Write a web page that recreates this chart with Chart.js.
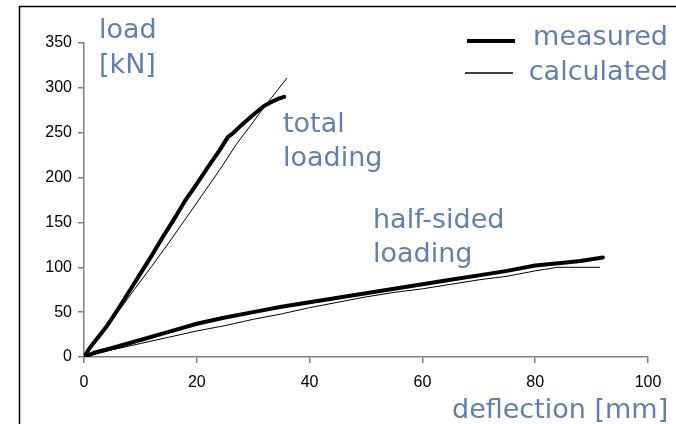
<!DOCTYPE html>
<html>
<head>
<meta charset="utf-8">
<script src="https://cdn.jsdelivr.net/npm/chart.js@4/dist/chart.umd.min.js"></script>
<style>
  html, body { margin: 0; padding: 0; background: #fff; }
  #wrap { width: 676px; height: 424px; position: relative; }
</style>
</head>
<body>
<div id="wrap"><canvas id="chart" width="676" height="424"></canvas></div>
<script>
// Load-deflection curves, values

// total loading, measured
const totalMeasX = [0, 1, 2.5, 4, 6, 8, 10, 12, 14, 16, 18, 20, 22, 24, 25.5, 26.5, 28, 30, 32, 33.5, 34.5, 35.5];
const totalMeasY = [0, 10, 22, 34, 53, 73, 93, 113, 134, 154, 175, 193, 212, 230, 245, 250, 259, 270, 280, 285, 288, 290];

// total loading, calculated
const totalCalcX = [0, 3, 6, 9, 12, 15, 18, 21, 24, 27, 30, 32, 34, 36];
const totalCalcY = [0, 24, 50, 76, 101, 127, 154, 181, 208, 237, 262, 279, 295, 311];

// half-sided loading, measured
const halfMeasX = [0, 2, 5, 10, 15, 20, 25, 30, 35, 40, 45, 50, 55, 60, 65, 70, 75, 80, 85, 88, 90, 92];
const halfMeasY = [0, 5, 10, 19, 28, 37, 44, 50, 56, 61, 66, 71, 76, 81, 86, 91, 96, 102, 105, 107, 109, 111];

// half-sided loading, calculated
const halfCalcX = [0, 5, 10, 15, 20, 25, 30, 35, 40, 45, 50, 55, 60, 65, 70, 75, 80, 84, 91.5];
const halfCalcY = [0, 8, 15, 22, 29, 35, 42, 48, 55, 61, 67, 72, 76, 81, 86, 90, 96, 100, 100];

const xTicks = [0, 20, 40, 60, 80, 100];
const yTicks = [0, 50, 100, 150, 200, 250, 300, 350];

const TEXT_BLUE = '#5f7fb6';
const LABEL_FONT = '27px "DejaVu Sans"';

function toPoints(xs, ys) {
    return xs.map((x, i) => ({ x: x, y: ys[i] }));
}

function measured(xs, ys) {
    return {
        label: 'measured',
        data: toPoints(xs, ys),
        borderColor: '#000',
        borderWidth: 4,
        pointRadius: 0,
        showLine: true,
        tension: 0,
        borderCapStyle: 'round'
    };
}

function calculated(xs, ys) {
    return {
        label: 'calculated',
        data: toPoints(xs, ys),
        borderColor: '#000',
        borderWidth: 1,
        pointRadius: 0,
        showLine: true,
        tension: 0
    };
}

// Frame, annotations and legend drawn on top of the chart
const decorations = {
    id: 'decorations',
    afterDraw(chart) {
        const ctx = chart.ctx;
        ctx.save();

        // outer frame (top and left edges only)
        ctx.strokeStyle = '#000';
        ctx.lineWidth = 1.5;
        ctx.beginPath();
        ctx.moveTo(676, 6.5);
        ctx.lineTo(19.5, 6.5);
        ctx.lineTo(19.5, 424);
        ctx.stroke();

        // annotation texts
        ctx.fillStyle = TEXT_BLUE;
        ctx.font = LABEL_FONT;
        ctx.textBaseline = 'alphabetic';
        ctx.textAlign = 'left';
        ctx.fillText('load', 99, 38);
        ctx.fillText('[kN]', 99, 73);
        ctx.fillText('total', 283, 132);
        ctx.fillText('loading', 283, 166);
        ctx.fillText('half-sided', 373, 228);
        ctx.fillText('loading', 373, 262);
        ctx.fillText('deflection [mm]', 452, 418);

        // legend
        ctx.textAlign = 'right';
        ctx.fillText('measured', 668, 45);
        ctx.fillText('calculated', 668, 80);

        ctx.strokeStyle = '#000';
        ctx.lineWidth = 4;
        ctx.beginPath();
        ctx.moveTo(467, 41);
        ctx.lineTo(515, 41);
        ctx.stroke();

        ctx.lineWidth = 1.5;
        ctx.beginPath();
        ctx.moveTo(465, 73);
        ctx.lineTo(513, 73);
        ctx.stroke();

        ctx.restore();
    }
};

new Chart(document.getElementById('chart').getContext('2d'), {
    type: 'scatter',
    data: {
        datasets: [
            measured(totalMeasX, totalMeasY),
            calculated(totalCalcX, totalCalcY),
            measured(halfMeasX, halfMeasY),
            calculated(halfCalcX, halfCalcY)
        ]
    },
    options: {
        responsive: false,
        animation: false,
        layout: {
            padding: { top: 43, right: 28, left: 0, bottom: 0 }
        },
        plugins: {
            legend: { display: false },
            tooltip: { enabled: false }
        },
        scales: {
            x: {
                type: 'linear',
                min: 0,
                max: 100,
                afterBuildTicks: (axis) => { axis.ticks = xTicks.map(v => ({ value: v })); },
                afterFit: (axis) => { axis.height = 67; },
                border: { color: '#808080', width: 1.5 },
                grid: { drawOnChartArea: false, color: '#808080', tickLength: 6, lineWidth: 1.5 },
                ticks: {
                    color: '#000',
                    font: { family: '"Liberation Sans", Arial', size: 16 },
                    padding: 10,
                    maxRotation: 0
                }
            },
            y: {
                type: 'linear',
                min: 0,
                max: 350,
                afterBuildTicks: (axis) => { axis.ticks = yTicks.map(v => ({ value: v })); },
                afterFit: (axis) => { axis.width = 84; },
                border: { color: '#808080', width: 1.5 },
                grid: { drawOnChartArea: false, color: '#808080', tickLength: 6, lineWidth: 1.5 },
                ticks: {
                    color: '#000',
                    font: { family: '"Liberation Sans", Arial', size: 16 },
                    padding: 6
                }
            }
        }
    },
    plugins: [decorations]
});
</script>
</body>
</html>
